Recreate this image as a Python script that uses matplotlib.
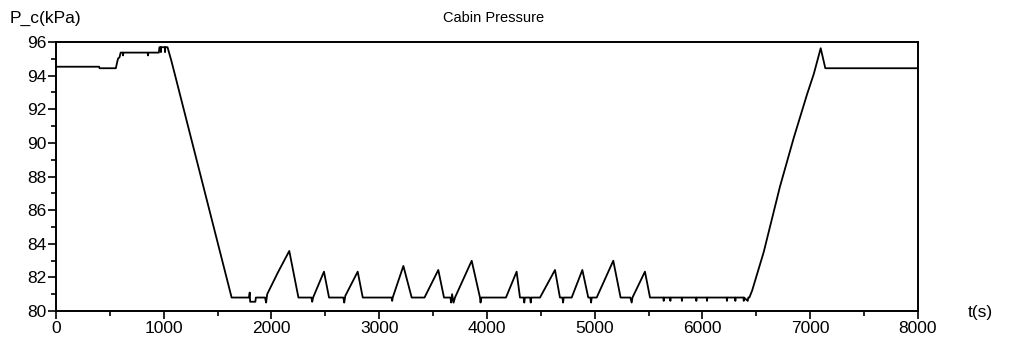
import numpy as np
import matplotlib
matplotlib.use("Agg")
import matplotlib.pyplot as plt
from matplotlib.ticker import MultipleLocator

plt.rcParams['font.family'] = ['Liberation Sans', 'DejaVu Sans']

# Cabin pressure trace (t in s, P_c in kPa)
t = [0, 400, 405, 555, 575, 590, 600, 620, 622, 625, 850, 854, 858, 955, 960, 972, 974, 976,
     1010, 1012, 1014, 1035,
     1070, 1110, 1630,
     1790, 1798, 1802, 1850, 1855, 1940, 1950, 1960,
     2060, 2165, 2250, 2370, 2378, 2386, 2487, 2534, 2667, 2675, 2685,
     2800, 2847, 3115, 3120, 3125, 3224, 3301, 3420, 3548, 3601,
     3660, 3668, 3676, 3690, 3703, 3858, 3935, 3940, 3948, 3955, 4176, 4275, 4306,
     4340, 4346, 4352, 4400, 4406, 4412, 4492, 4631, 4677, 4700, 4706, 4712, 4786,
     4885, 4940, 4960, 4966, 4972, 5018, 5172, 5240, 5330, 5343, 5350, 5466, 5513,
     5637, 5640, 5643, 5699, 5702, 5705, 5806, 5809, 5812, 5940, 5943, 5946,
     6039, 6042, 6045, 6224, 6227, 6230, 6302, 6305, 6308, 6380, 6383, 6386,
     6420, 6425, 6435, 6460, 6568, 6719, 6847, 6971, 7033, 7097, 7120, 7140, 8000]
p = [94.53, 94.53, 94.44, 94.44, 95.0, 95.1, 95.37, 95.37, 95.2, 95.37, 95.37, 95.2, 95.37,
     95.37, 95.69, 95.69, 95.4, 95.69, 95.69, 95.4, 95.69, 95.69,
     94.9, 93.9, 80.8,
     80.8, 81.1, 80.55, 80.55, 80.8, 80.8, 80.5, 81.0,
     82.3, 83.57, 80.8, 80.8, 80.55, 80.8, 82.34, 80.8, 80.8, 80.5, 80.9,
     82.34, 80.8, 80.8, 80.6, 80.8, 82.68, 80.8, 80.8, 82.44, 80.8,
     80.8, 80.5, 81.0, 80.5, 80.8, 82.99, 80.8, 80.5, 80.8, 80.8, 80.8, 82.34, 80.8,
     80.8, 80.5, 80.8, 80.8, 80.5, 80.8, 80.8, 82.44, 80.8, 80.8, 80.5, 80.8, 80.8,
     82.44, 80.8, 80.8, 80.5, 80.8, 80.8, 82.99, 80.8, 80.8, 80.5, 80.8, 82.34, 80.8,
     80.8, 80.6, 80.8, 80.8, 80.6, 80.8, 80.8, 80.6, 80.8, 80.8, 80.6, 80.8,
     80.8, 80.6, 80.8, 80.8, 80.6, 80.8, 80.8, 80.6, 80.8, 80.8, 80.6, 80.8,
     80.6, 80.8, 80.8, 81.2, 83.5, 87.4, 90.3, 92.9, 94.1, 95.63, 95.0, 94.44, 94.44]

x_ticks = [0, 1000, 2000, 3000, 4000, 5000, 6000, 7000, 8000]
y_ticks = [80, 82, 84, 86, 88, 90, 92, 94, 96]

fig = plt.figure(figsize=(10.09, 3.41), dpi=100)
ax = fig.add_axes([0.0555, 0.088, 0.8543, 0.7888])

ax.plot(t, p, color='black', linewidth=1.3)

ax.set_xlim(0, 8000)
ax.set_ylim(80, 96)
ax.set_xticks(x_ticks)
ax.set_yticks(y_ticks)
ax.xaxis.set_minor_locator(MultipleLocator(500))
ax.yaxis.set_minor_locator(MultipleLocator(1))
ax.tick_params(which='major', direction='out', length=6, width=1.2, labelsize=12.5,
               top=False, right=False, pad=1)
ax.tick_params(which='minor', direction='out', length=3.5, width=1.2, top=False, right=False)
for s in ax.spines.values():
    s.set_linewidth(1.4)

fig.text(494 / 1009, 1 - 18 / 341, 'Cabin Pressure', ha='center', va='center', fontsize=10.5)
fig.text(10 / 1009, 1 - 18 / 341, 'P_c(kPa)', ha='left', va='center', fontsize=12.5)
fig.text(968 / 1009, 1 - 313 / 341, 't(s)', ha='left', va='center', fontsize=12.5)

fig.savefig('out.png', dpi=100)
